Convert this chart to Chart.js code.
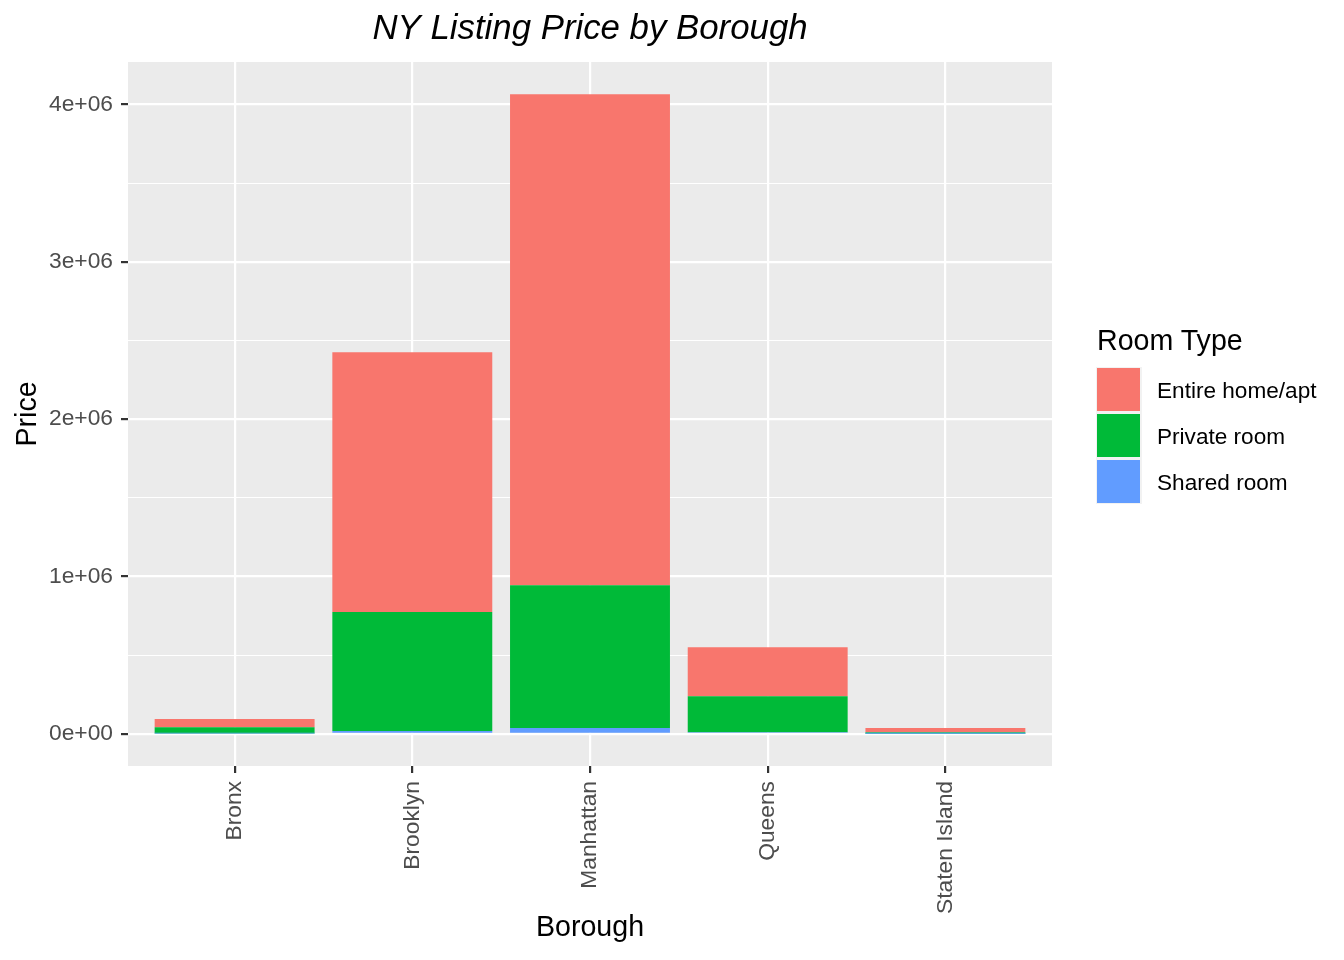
<!DOCTYPE html>
<html>
<head>
<meta charset="utf-8">
<script src="https://cdn.jsdelivr.net/npm/chart.js@4/dist/chart.umd.min.js"></script>
<style>
  html, body { margin: 0; padding: 0; background: #ffffff; }
  #wrap { position: relative; width: 1344px; height: 960px; font-family: "Liberation Sans", Arial, sans-serif; }
  #c { position: absolute; left: 0; top: 0; }
  .lg-title { position: absolute; left: 1097px; top: 326px; font-size: 28.6px; line-height: 28.6px; color: #000; white-space: nowrap; }
  .lg-bg { position: absolute; left: 1096px; top: 366.5px; width: 46px; height: 137.5px; background: #F2F2F2; }
  .lg-box { position: absolute; left: 1097px; width: 43px; height: 43px; }
  .lg-lab { position: absolute; left: 1157px; font-size: 22.6px; line-height: 22.6px; color: #000; white-space: nowrap; }
</style>
</head>
<body>
<div id="wrap">
  <canvas id="c" width="1344" height="960"></canvas>
  <div id="legend"></div>
</div>
<script>
// ---- data ----
const categories = ["Bronx", "Brooklyn", "Manhattan", "Queens", "Staten Island"];
const roomTypes = ["Entire home/apt", "Private room", "Shared room"];
const roomColors = ["#F8766D", "#00BA38", "#619CFF"];
const entireHome = [51000, 1652000, 3120000, 311000, 26000];
const privateRoom = [41000, 756000, 908000, 229000, 10000];
const sharedRoom = [2000, 18000, 37000, 11000, 1000];
const yTickValues = [0, 1000000, 2000000, 3000000, 4000000];
const yTickLabels = ["0e+00", "1e+06", "2e+06", "3e+06", "4e+06"];
const yMinorValues = [500000, 1500000, 2500000, 3500000];
const yMin = -204000;
const yMax = 4270000;

// ---- legend (HTML) ----
(function () {
  const lg = document.getElementById('legend');
  let html = '<div class="lg-title">Room Type</div><div class="lg-bg"></div>';
  const boxTops = [367.5, 413.7, 459.9];
  const labTops = [379.8, 426, 472];
  roomTypes.forEach((t, i) => {
    html += '<div class="lg-box" style="top:' + boxTops[i] + 'px;background:' + roomColors[i] + '"></div>';
    html += '<div class="lg-lab" style="top:' + labTops[i] + 'px">' + t + '</div>';
  });
  lg.innerHTML = html;
})();

const toPoints = arr => arr.map((v, i) => ({ x: i, y: v }));

const panelBg = {
  id: 'panelBg',
  beforeDraw(chart) {
    const a = chart.chartArea;
    const ctx = chart.ctx;
    ctx.save();
    ctx.fillStyle = '#EBEBEB';
    ctx.fillRect(a.left, a.top, a.right - a.left, a.bottom - a.top);
    ctx.restore();
  }
};

const FONT = "'Liberation Sans', Arial, sans-serif";
const isMajor = v => yTickValues.includes(v);

new Chart(document.getElementById('c'), {
  type: 'bar',
  data: {
    datasets: [
      { label: roomTypes[2], data: toPoints(sharedRoom), backgroundColor: roomColors[2], stack: 's' },
      { label: roomTypes[1], data: toPoints(privateRoom), backgroundColor: roomColors[1], stack: 's' },
      { label: roomTypes[0], data: toPoints(entireHome), backgroundColor: roomColors[0], stack: 's' }
    ]
  },
  options: {
    responsive: false,
    animation: false,
    devicePixelRatio: 1,
    layout: { padding: { left: 0, right: 292, top: 0, bottom: 0 } },
    datasets: { bar: { barPercentage: 0.9, categoryPercentage: 1.0, borderWidth: 0 } },
    plugins: {
      legend: { display: false },
      tooltip: { enabled: false },
      title: {
        display: true,
        text: 'NY Listing Price by Borough',
        fullSize: false,
        color: '#000000',
        font: { family: FONT, size: 34.8, style: 'italic', weight: 'normal', lineHeight: 1.2 },
        padding: { top: 8, bottom: 12.2 }
      }
    },
    scales: {
      x: {
        type: 'linear',
        min: -0.6,
        max: 4.6,
        offset: false,
        afterFit(scale) { scale.height = 194; },
        afterBuildTicks(scale) { scale.ticks = categories.map((c, i) => ({ value: i })); },
        border: { display: false },
        grid: { offset: false, color: '#FFFFFF', lineWidth: 2.2, tickLength: 7, tickColor: '#333333', tickWidth: 2.2 },
        ticks: {
          color: '#4D4D4D',
          font: { family: FONT, size: 22.8 },
          padding: 8,
          minRotation: 90,
          maxRotation: 90,
          autoSkip: false,
          callback: (v) => categories[v] !== undefined ? categories[v] : ''
        },
        title: {
          display: true, text: 'Borough', color: '#000000',
          font: { family: FONT, size: 28.6, lineHeight: 1.2 },
          padding: { top: 0, bottom: 15 }
        }
      },
      y: {
        stacked: true,
        min: yMin,
        max: yMax,
        afterFit(scale) { scale.width = 128; },
        afterBuildTicks(scale) {
          scale.ticks = yTickValues.concat(yMinorValues).sort((a, b) => a - b).map(v => ({ value: v }));
        },
        border: { display: false },
        grid: {
          color: '#FFFFFF',
          lineWidth: (ctx) => (ctx.tick && isMajor(ctx.tick.value)) ? 2.2 : 1.1,
          tickLength: 7,
          tickColor: (ctx) => (ctx.tick && isMajor(ctx.tick.value)) ? '#333333' : 'rgba(0,0,0,0)',
          tickWidth: 2.2
        },
        ticks: {
          color: '#4D4D4D',
          font: { family: FONT, size: 22.8 },
          padding: 8,
          autoSkip: false,
          callback: (v) => { const i = yTickValues.indexOf(v); return i >= 0 ? yTickLabels[i] : ''; }
        },
        title: {
          display: true, text: 'Price', color: '#000000',
          font: { family: FONT, size: 28.6, lineHeight: 1.2 },
          padding: { top: 11, bottom: 0 }
        }
      }
    }
  },
  plugins: [panelBg]
});
</script>
</body>
</html>
